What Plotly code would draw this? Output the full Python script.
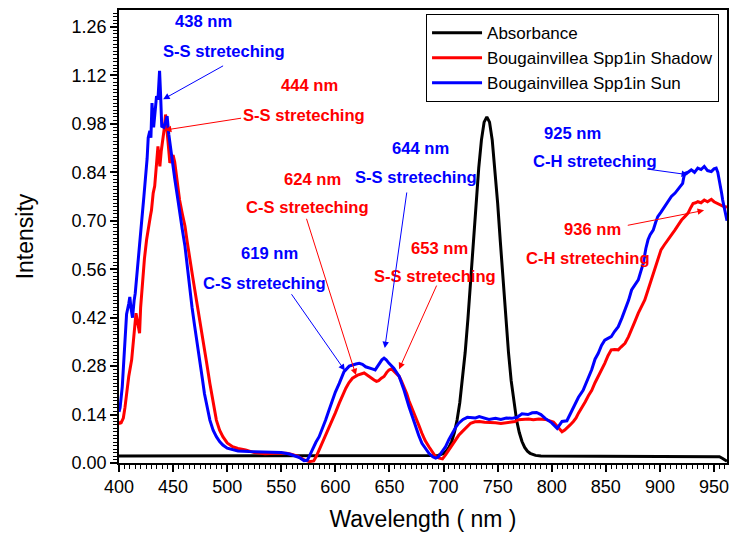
import plotly.graph_objects as go

# ---------------- data ----------------
sun_nm = [400, 401, 403, 405, 407, 409, 410, 411, 412.5, 414, 415, 417, 418, 420, 421, 423, 424, 426, 427,
          428.5, 429.5, 430.5, 432, 433, 434.7, 436, 437.5, 438.5, 439.5, 441.5, 443, 444.5, 446, 447, 449,
          451.6, 454, 456, 458.5, 461, 463, 465, 467.5, 470, 472.5, 474.6, 477, 479, 481.5, 484, 487, 490,
          493, 496, 500, 505, 510, 520, 530, 540, 550, 557.5, 563, 566.7, 571, 574, 576, 579, 582, 585, 588,
          591, 594, 597.4, 600, 603.6, 608, 612.8, 616, 619, 622, 625, 628, 631, 634, 636.8, 640, 643, 645,
          647, 649.6, 654, 659, 663.5, 668, 671, 674, 677, 680, 683, 686.5, 690, 692.7, 695, 698, 701.9, 705,
          708, 711, 714, 718, 722, 726, 729.5, 733, 737, 742, 748, 753, 758, 763, 768, 772.5, 778, 782, 786,
          790, 794, 797, 800, 805, 807.5, 809.5, 814, 816, 818.5, 821, 824.7, 829, 833, 837, 840, 843, 846,
          849, 852, 855, 858, 861.5, 865, 867.7, 871, 873.8, 877, 880, 882, 884.6, 887, 889, 891, 893.8, 896,
          898, 901, 904.6, 908, 910.6, 914, 916.8, 919, 921, 922, 923, 926, 929, 932, 935, 938, 941, 944,
          947.5, 950, 952, 953.5, 955, 957, 958, 960, 962]
sun_int = [0.148, 0.16, 0.22, 0.33, 0.43, 0.46, 0.48, 0.45, 0.42, 0.47, 0.49, 0.56, 0.59, 0.66, 0.70, 0.77,
           0.80, 0.88, 0.94, 0.96, 0.94, 1.04, 0.97, 1.00, 1.06, 1.05, 1.133, 1.06, 0.973, 0.97, 0.99, 1.002,
           0.95, 0.925, 0.87, 0.82, 0.77, 0.722, 0.675, 0.626, 0.57, 0.51, 0.45, 0.394, 0.345, 0.298, 0.245,
           0.2, 0.16, 0.124, 0.095, 0.076, 0.062, 0.052, 0.043, 0.038, 0.035, 0.033, 0.032, 0.031, 0.030,
           0.026, 0.02, 0.016, 0.007, 0.008, 0.02, 0.042, 0.06, 0.076, 0.098, 0.124, 0.152, 0.182, 0.205,
           0.23, 0.264, 0.28, 0.284, 0.286, 0.288, 0.285, 0.278, 0.274, 0.272, 0.269, 0.283, 0.298, 0.303,
           0.298, 0.288, 0.274, 0.25, 0.21, 0.163, 0.135, 0.105, 0.08, 0.057, 0.042, 0.028, 0.018, 0.014,
           0.017, 0.03, 0.047, 0.068, 0.086, 0.102, 0.115, 0.126, 0.132, 0.131, 0.13, 0.134, 0.13, 0.126,
           0.129, 0.126, 0.13, 0.129, 0.132, 0.142, 0.14, 0.145, 0.146, 0.14, 0.129, 0.122, 0.116, 0.1, 0.112,
           0.12, 0.122, 0.135, 0.153, 0.17, 0.19, 0.21, 0.24, 0.27, 0.3, 0.317, 0.34, 0.355, 0.36, 0.365,
           0.38, 0.394, 0.42, 0.442, 0.47, 0.5, 0.515, 0.529, 0.55, 0.577, 0.62, 0.645, 0.66, 0.673, 0.695,
           0.712, 0.725, 0.741, 0.755, 0.77, 0.78, 0.79, 0.8, 0.808, 0.825, 0.837, 0.84, 0.847, 0.84, 0.852,
           0.848, 0.857, 0.845, 0.842, 0.85, 0.852, 0.84, 0.818, 0.78, 0.76, 0.73, 0.70]

shadow_nm = [400, 401, 402, 403, 404, 405.5, 407, 409, 411.7, 413, 414.5, 415.7, 417, 418, 419, 420, 422,
             423.5, 425.5, 427, 429, 430, 431.6, 433, 434.7, 436, 437, 437.8, 439, 440.8, 442, 443, 444,
             445.4, 447, 448.5, 450, 451.5, 453, 456, 458.5, 461, 463, 465, 468, 471.6, 474.5, 477.7, 481,
             484, 487, 490, 493, 496, 500, 505, 510, 517, 525, 535, 545, 555, 560, 565, 569, 572, 576, 580,
             582.5, 585, 588, 591, 594, 597.4, 600, 603.6, 606.5, 609.7, 612.5, 615.8, 620.5, 623.5, 626.6,
             629, 631, 633.5, 635.8, 638, 640, 642.5, 645, 647.5, 649.6, 652, 654, 656.5, 659, 661, 663.5,
             666, 668, 671, 674, 677, 680, 683, 686.5, 690, 692.7, 696, 699, 702, 705, 708, 711, 714, 717,
             721, 725, 729, 733, 738, 742, 748, 753, 758, 763, 766, 769, 774, 778.6, 783, 788, 794, 798,
             801.6, 804, 807, 809.5, 812, 814, 817, 820, 822.5, 824.7, 828, 831, 834, 837, 840, 843, 846,
             849, 852, 855, 858, 861.5, 864, 867.7, 871, 873.8, 877, 880, 883, 886, 889, 892, 895, 897, 899,
             901, 904, 907.6, 911, 913.8, 917, 920, 923, 926, 928, 930.6, 933, 935, 938, 941, 944, 947.5,
             950, 953.6, 956, 959, 962]
shadow_int = [0.12, 0.115, 0.116, 0.124, 0.13, 0.16, 0.2, 0.25, 0.298, 0.35, 0.40, 0.433, 0.41, 0.394,
              0.375, 0.45, 0.54, 0.59, 0.645, 0.68, 0.713, 0.73, 0.78, 0.8, 0.857, 0.915, 0.88, 0.857, 0.9,
              0.935, 0.97, 1.007, 0.96, 0.925, 0.867, 0.88, 0.89, 0.87, 0.83, 0.76, 0.72, 0.684, 0.64,
              0.597, 0.54, 0.47, 0.41, 0.346, 0.29, 0.23, 0.175, 0.124, 0.095, 0.076, 0.058, 0.047, 0.042,
              0.038, 0.03, 0.027, 0.028, 0.028, 0.025, 0.02, 0.013, 0.008, 0.004, 0.006, 0.02, 0.038, 0.055,
              0.076, 0.1, 0.124, 0.145, 0.173, 0.195, 0.216, 0.232, 0.245, 0.254, 0.258, 0.26, 0.255, 0.25,
              0.243, 0.24, 0.236, 0.238, 0.245, 0.25, 0.262, 0.269, 0.272, 0.265, 0.258, 0.25, 0.237, 0.22,
              0.2, 0.18, 0.158, 0.134, 0.11, 0.086, 0.065, 0.047, 0.03, 0.018, 0.014, 0.012, 0.024, 0.038,
              0.052, 0.067, 0.08, 0.09, 0.104, 0.115, 0.119, 0.12, 0.118, 0.118, 0.116, 0.114, 0.117, 0.118,
              0.12, 0.125, 0.126, 0.127, 0.125, 0.127, 0.126, 0.122, 0.118, 0.11, 0.098, 0.09, 0.095, 0.1,
              0.11, 0.12, 0.13, 0.144, 0.16, 0.177, 0.195, 0.21, 0.232, 0.25, 0.27, 0.288, 0.31, 0.327,
              0.328, 0.327, 0.335, 0.346, 0.365, 0.384, 0.41, 0.433, 0.452, 0.471, 0.5, 0.529, 0.56, 0.577,
              0.6, 0.616, 0.63, 0.645, 0.66, 0.673, 0.688, 0.702, 0.712, 0.722, 0.735, 0.75, 0.752, 0.755,
              0.752, 0.76, 0.755, 0.762, 0.755, 0.75, 0.745, 0.741, 0.74]

abs_nm = [400, 500, 600, 690, 695, 700, 702.5, 705, 707.5, 710, 712.5, 715, 717.5, 720, 722.5, 725, 727.5,
          730, 732.5, 735, 737.5, 740, 742.5, 745, 747.5, 750, 752.5, 755, 757.5, 760, 762.5, 765, 767.5,
          770, 772.5, 775, 777.5, 780, 785, 790, 850, 900, 950, 955, 958, 962]
abs_int = [0.02, 0.02, 0.02, 0.02, 0.022, 0.028, 0.034, 0.045, 0.062, 0.088, 0.124, 0.174, 0.239,
           0.32, 0.416, 0.524, 0.639, 0.751, 0.852, 0.933, 0.985, 1.0, 0.985, 0.933, 0.852, 0.751, 0.639,
           0.524, 0.416, 0.32, 0.238, 0.174, 0.124, 0.088, 0.062, 0.045, 0.034, 0.028, 0.022, 0.02,
           0.02, 0.02, 0.02, 0.018, 0.013, 0.005]

series_names = ["Absorbance", "Bougainvillea Spp1in Shadow", "Bougainvillea Spp1in Sun"]

# annotation labels: (text, colour, x, y)
labels = [
    ("438 nm", "blue", 478.3, 1.275), ("S-S streteching", "blue", 496.7, 1.188),
    ("444 nm", "red", 576, 1.09), ("S-S streteching", "red", 571.3, 1.003),
    ("624 nm", "red", 578.4, 0.82), ("C-S streteching", "red", 574.1, 0.737),
    ("644 nm", "blue", 679.1, 0.91), ("S-S streteching", "blue", 674.5, 0.824),
    ("619 nm", "blue", 539.1, 0.604), ("C-S streteching", "blue", 534.5, 0.519),
    ("653 nm", "red", 696.4, 0.62), ("S-S streteching", "red", 692, 0.538),
    ("925 nm", "blue", 819.2, 0.951), ("C-H streteching", "blue", 840.4, 0.87),
    ("936 nm", "red", 837.6, 0.676), ("C-H streteching", "red", 833.9, 0.592),
]
# arrows: (colour, head x, head y, tail x, tail y)
arrows = [
    ("blue", 440.8, 1.051, 497.6, 1.150),
    ("red", 442.4, 0.962, 514.2, 0.997),
    ("red", 619.0, 0.254, 572.9, 0.710),
    ("blue", 645.7, 0.332, 666.2, 0.786),
    ("blue", 608.8, 0.267, 558.5, 0.492),
    ("red", 658.9, 0.271, 694.2, 0.517),
    ("blue", 926.0, 0.833, 886.8, 0.850),
    ("red", 940.8, 0.730, 868.9, 0.686),
]

FONT = "Liberation Sans, Arial, sans-serif"

fig = go.Figure()
fig.add_trace(go.Scatter(x=abs_nm, y=abs_int, mode="lines", name=series_names[0],
                         line=dict(color="black", width=3)))
fig.add_trace(go.Scatter(x=shadow_nm, y=shadow_int, mode="lines", name=series_names[1],
                         line=dict(color="#ff0000", width=3)))
fig.add_trace(go.Scatter(x=sun_nm, y=sun_int, mode="lines", name=series_names[2],
                         line=dict(color="#0000ff", width=3)))

annots = []
for txt, col, x, y in labels:
    annots.append(dict(x=x, y=y, xref="x", yref="y", text="<b>%s</b>" % txt, showarrow=False,
                       font=dict(family=FONT, size=16.6, color=col)))
for col, hx, hy, tx, ty in arrows:
    annots.append(dict(x=hx, y=hy, ax=tx, ay=ty, xref="x", yref="y", axref="x", ayref="y",
                       text="", showarrow=True, arrowhead=2, arrowsize=1.3, arrowwidth=1,
                       arrowcolor=col, standoff=0, startstandoff=0))

fig.update_layout(
    width=732, height=536,
    margin=dict(l=119, r=3, t=10, b=73),
    paper_bgcolor="white", plot_bgcolor="white",
    font=dict(family=FONT, color="black", size=18),
    showlegend=True,
    legend=dict(x=0.505, y=0.991, xanchor="left", yanchor="top",
                bgcolor="white", bordercolor="black", borderwidth=1,
                font=dict(family=FONT, size=17, color="black"),
                tracegroupgap=0, itemwidth=50),
    annotations=annots,
)
fig.update_xaxes(
    range=[400, 962], tick0=400, dtick=50, ticks="outside", ticklen=7, tickwidth=1.5,
    tickcolor="black", showline=True, linecolor="black", linewidth=1.5, mirror=True,
    showgrid=False, zeroline=False,
    tickfont=dict(family=FONT, size=18, color="black"),
    title=dict(text="Wavelength ( nm )", font=dict(family=FONT, size=23, color="black"), standoff=15),
    minor=dict(dtick=5, ticks="outside", ticklen=4, tickcolor="black", tickwidth=1),
)
fig.update_yaxes(
    range=[0, 1.309], tick0=0, dtick=0.14, tickformat=".2f", ticks="outside", ticklen=7, tickwidth=1.5,
    tickcolor="black", showline=True, linecolor="black", linewidth=1.5, mirror=True,
    showgrid=False, zeroline=False,
    tickfont=dict(family=FONT, size=18, color="black"),
    title=dict(text="Intensity", font=dict(family=FONT, size=23, color="black"), standoff=32),
    minor=dict(dtick=0.01, ticks="outside", ticklen=4, tickcolor="black", tickwidth=1),
)

fig.write_html("out.html")
